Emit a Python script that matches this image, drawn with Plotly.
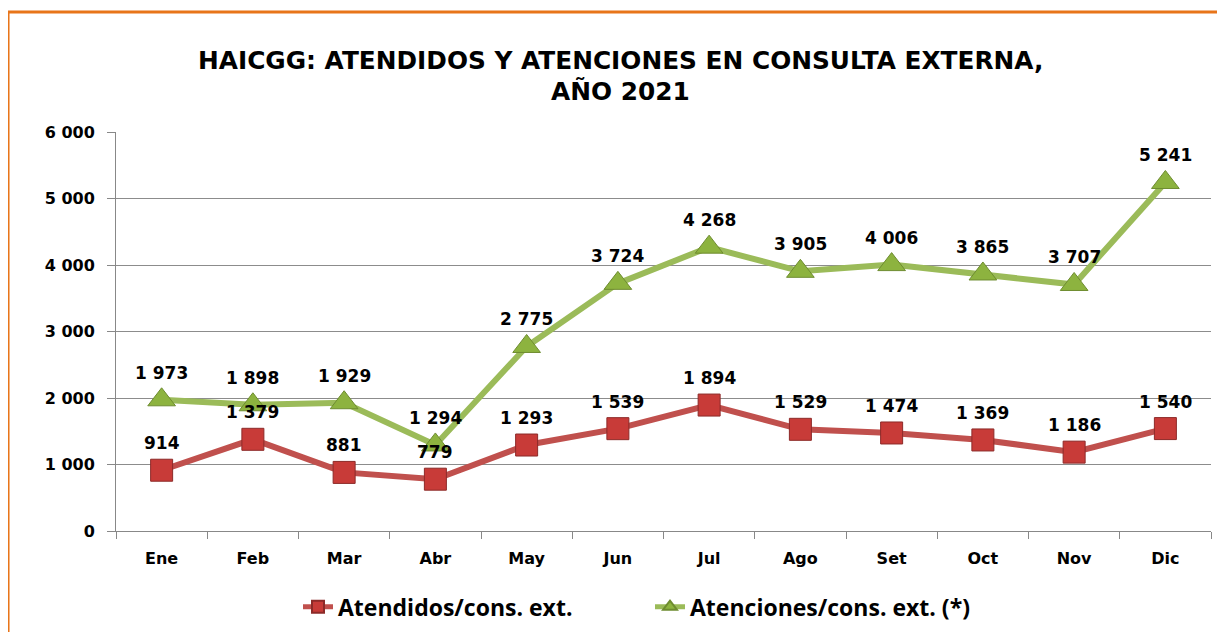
import plotly.graph_objects as go

months = ["Ene", "Feb", "Mar", "Abr", "May", "Jun", "Jul", "Ago", "Set", "Oct", "Nov", "Dic"]
atendidos = [914, 1379, 881, 779, 1293, 1539, 1894, 1529, 1474, 1369, 1186, 1540]
atenciones = [1973, 1898, 1929, 1294, 2775, 3724, 4268, 3905, 4006, 3865, 3707, 5241]
y_ticks = [0, 1000, 2000, 3000, 4000, 5000, 6000]
title_lines = ["HAICGG: ATENDIDOS Y ATENCIONES EN CONSULTA EXTERNA,", "AÑO 2021"]

RED = "#C0504D"
GREEN = "#9BBB59"

def fmt(v):
    return f"{v:,}".replace(",", " ")

fig = go.Figure()
fig.add_trace(go.Scatter(
    x=months, y=atendidos, mode="lines+markers", name="Atendidos/cons. ext.",
    line=dict(color=RED, width=6),
    marker=dict(symbol="square", size=22, color="#C83B38", line=dict(color="#8C2A28", width=1)),
))
fig.add_trace(go.Scatter(
    x=months, y=atenciones, mode="lines+markers", name="Atenciones/cons. ext. (*)",
    line=dict(color=GREEN, width=6),
    marker=dict(symbol="triangle-up", size=24, color="#8DB33F", line=dict(color="#6E8C30", width=1)),
))

lab_font = dict(family="DejaVu Sans", size=17, color="#000", weight="bold")
for m, v in zip(months, atendidos):
    fig.add_annotation(x=m, y=v, text=fmt(v), showarrow=False, yshift=27, font=lab_font)
for m, v in zip(months, atenciones):
    fig.add_annotation(x=m, y=v, text=fmt(v), showarrow=False, yshift=27, font=lab_font)

# title as two separate lines
title_font = dict(family="DejaVu Sans", size=24.8, color="#000", weight="bold")
for txt, yy in zip(title_lines, [1.180, 1.101]):
    fig.add_annotation(xref="paper", yref="paper", x=0.4603, y=yy, text=txt, showarrow=False,
                       xanchor="center", yanchor="middle", font=title_font)

# orange frame (top and left visible)
fig.add_shape(type="rect", xref="paper", yref="paper",
              x0=-0.0986, y0=-0.35, x1=1.05, y1=1.3008,
              line=dict(color="#E8751A", width=3), layer="below")

tick_font = dict(family="DejaVu Sans", size=16, color="#000", weight="bold")

fig.update_layout(
    width=1225, height=632,
    margin=dict(l=108, r=22, t=124, b=109, autoexpand=False),
    paper_bgcolor="white", plot_bgcolor="white",
    separators=". ",
    showlegend=True,
    legend=dict(orientation="h", x=(298 - 8 - 108) / 1095, xanchor="left", y=-0.19, yanchor="middle",
                font=dict(family="Open Sans", size=23, color="#000", weight="bold"),
                itemwidth=30, entrywidth=307, tracegroupgap=0, bgcolor="rgba(0,0,0,0)",
                itemsizing="constant"),
    xaxis=dict(showline=True, linecolor="#888", linewidth=1, ticks="outside", tickson="boundaries",
               ticklen=7, tickcolor="#888", showgrid=False, automargin=False,
               tickfont=tick_font, ticklabelstandoff=13,
               range=[-0.5, 11.5]),
    yaxis=dict(range=[0, 6000], tickvals=y_ticks, tickformat=",d", automargin=False,
               showline=True, linecolor="#888", linewidth=1, ticks="outside", ticklen=8,
               tickcolor="#888", showgrid=True, gridcolor="#8c8c8c", gridwidth=1,
               tickfont=tick_font, ticklabelstandoff=9, zeroline=False),
)

fig.write_html("out.html")
